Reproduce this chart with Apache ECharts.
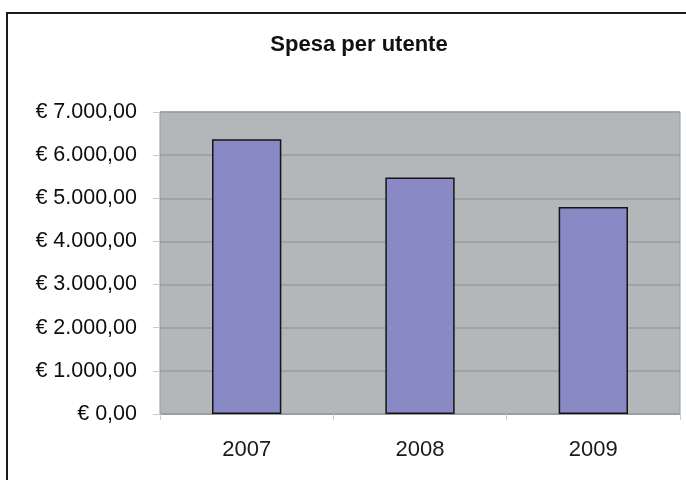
<!DOCTYPE html>
<html>
<head>
<meta charset="utf-8">
<script src="https://cdn.jsdelivr.net/npm/echarts@6/dist/echarts.min.js"></script>
<style>
html,body{margin:0;padding:0;background:#fff;}
#chart{width:686px;height:480px;}
</style>
</head>
<body>
<div id="chart"></div>
<script>
var categories = ['2007', '2008', '2009'];
var spesaValues = [6370, 5480, 4800];
var titleText = 'Spesa per utente';

function fmtEuro(v) {
  var s = Math.round(v).toString().replace(/\B(?=(\d{3})+(?!\d))/g, '.');
  return '€ ' + s + ',00';
}

var chart = echarts.init(document.getElementById('chart'), null, {renderer: 'canvas'});
chart.setOption({
  backgroundColor: '#ffffff',
  animation: false,
  title: {
    text: titleText,
    left: 354,
    textAlign: 'center',
    top: 29,
    textStyle: {fontFamily: 'Liberation Sans, Arial, sans-serif', fontSize: 22, fontWeight: 'bold', color: '#111'}
  },
  graphic: [{
    type: 'rect',
    shape: {x: 7, y: 13, width: 720, height: 520},
    style: {fill: 'none', stroke: '#1a1a1a', lineWidth: 2},
    silent: true
  }],
  grid: {
    left: 160, right: 6, top: 112, bottom: 66,
    show: true,
    backgroundColor: '#b4b7ba',
    borderColor: '#999b9e',
    borderWidth: 1
  },
  xAxis: {
    type: 'category',
    data: categories,
    axisLine: {show: true, lineStyle: {color: '#999b9e', width: 1}},
    axisTick: {show: true, length: 6, lineStyle: {color: '#cccccc'}},
    axisLabel: {
      margin: 25,
      fontFamily: 'Liberation Sans, Arial, sans-serif',
      fontSize: 22,
      color: '#1a1a1a'
    }
  },
  yAxis: {
    type: 'value',
    min: 0, max: 7000, interval: 1000,
    axisLine: {show: false},
    axisTick: {show: true, length: 7, lineStyle: {color: '#cccccc'}},
    splitLine: {show: true, lineStyle: {color: '#9a9c9f', width: 1.5}},
    axisLabel: {
      margin: 23,
      formatter: fmtEuro,
      fontFamily: 'Liberation Sans, Arial, sans-serif',
      fontSize: 21.5,
      color: '#0d0d0d'
    }
  },
  series: [{
    type: 'bar',
    data: spesaValues,
    barWidth: '40%',
    itemStyle: {color: '#8889c5', borderColor: '#151515', borderWidth: 1.5}
  }]
});
</script>
</body>
</html>
